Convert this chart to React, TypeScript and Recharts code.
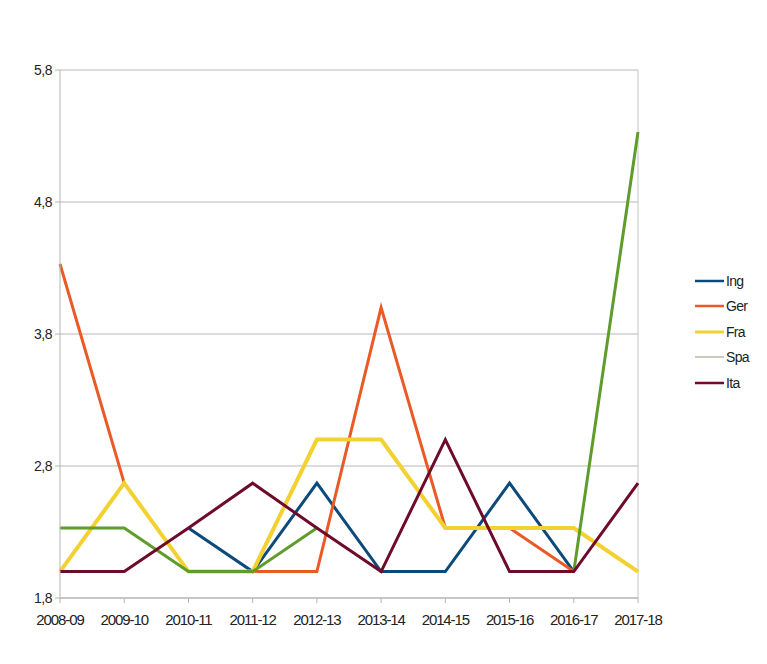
import { CartesianGrid, Line, LineChart, ReferenceLine, XAxis, YAxis } from "recharts";

const seasons = ["2008-09", "2009-10", "2010-11", "2011-12", "2012-13", "2013-14", "2014-15", "2015-16", "2016-17", "2017-18"];

const ing = [null, null, 2.33, 2.0, 2.67, 2.0, 2.0, 2.67, 2.0, null];
const ger = [4.33, 2.67, null, 2.0, 2.0, 4.0, 2.33, 2.33, 2.0, null];
const fra = [2.0, 2.67, 2.0, 2.0, 3.0, 3.0, 2.33, 2.33, 2.33, 2.0];
const spa = [2.33, 2.33, 2.0, 2.0, 2.33, null, null, null, 2.0, 5.33];
const ita = [2.0, 2.0, 2.33, 2.67, 2.33, 2.0, 3.0, 2.0, 2.0, 2.67];

const yTicks = [1.8, 2.8, 3.8, 4.8, 5.8];

const series = [
  { key: "Ing", color: "#0b4a7a", width: 3, legendWidth: 2.5 },
  { key: "Ger", color: "#ea5a26", width: 3, legendWidth: 2.5 },
  { key: "Fra", color: "#f2d130", width: 4, legendWidth: 3 },
  { key: "Spa", color: "#5f9c2b", width: 3, legendWidth: 1 },
  { key: "Ita", color: "#6e0a2a", width: 3, legendWidth: 2.5 },
];

const rows = seasons.map((s, i) => ({
  season: s,
  Ing: ing[i],
  Ger: ger[i],
  Fra: fra[i],
  Spa: spa[i],
  Ita: ita[i],
}));

const font = "'Liberation Sans', Arial, sans-serif";

export default function App() {
  return (
    <div style={{ position: "absolute", left: 0, top: 0, width: 767, height: 664, background: "#fff" }}>
      <LineChart
        width={767}
        height={664}
        data={rows}
        margin={{ top: 70, right: 129, bottom: 36, left: 0 }}
      >
        <CartesianGrid vertical={false} stroke="#b8b8b8" strokeWidth={1} />
        <ReferenceLine x="2017-18" stroke="#c4c4c4" />
        <XAxis
          dataKey="season"
          height={30}
          interval={0}
          tickSize={5}
          tickMargin={11}
          stroke="#b3b3b3"
          tick={{ fill: "#222", fontSize: 15, fontFamily: font, letterSpacing: -1.1 }}
        />
        <YAxis
          width={60}
          domain={[1.8, 5.8]}
          ticks={yTicks}
          interval={0}
          tickSize={5}
          tickMargin={3}
          stroke="#b3b3b3"
          tickFormatter={(v: number) => v.toFixed(1).replace(".", ",")}
          tick={{ fill: "#222", fontSize: 14, fontFamily: font, letterSpacing: -0.5 }}
        />
        {series.map((s) => (
          <Line
            key={s.key}
            dataKey={s.key}
            stroke={s.color}
            strokeWidth={s.width}
            strokeLinejoin="miter"
            dot={false}
            activeDot={false}
            connectNulls={false}
            isAnimationActive={false}
            type="linear"
          />
        ))}
      </LineChart>
      <div style={{ position: "absolute", left: 694, top: 268, fontFamily: font, fontSize: 14, color: "#222" }}>
        {series.map((s) => (
          <div key={s.key} style={{ display: "flex", alignItems: "center", height: 25.5, letterSpacing: -0.7 }}>
            <svg width={32} height={10}>
              <line x1={1} y1={5} x2={30} y2={5} stroke={s.key === "Spa" ? "#8a9a80" : s.color} strokeWidth={s.legendWidth} />
            </svg>
            <span>{s.key}</span>
          </div>
        ))}
      </div>
    </div>
  );
}
